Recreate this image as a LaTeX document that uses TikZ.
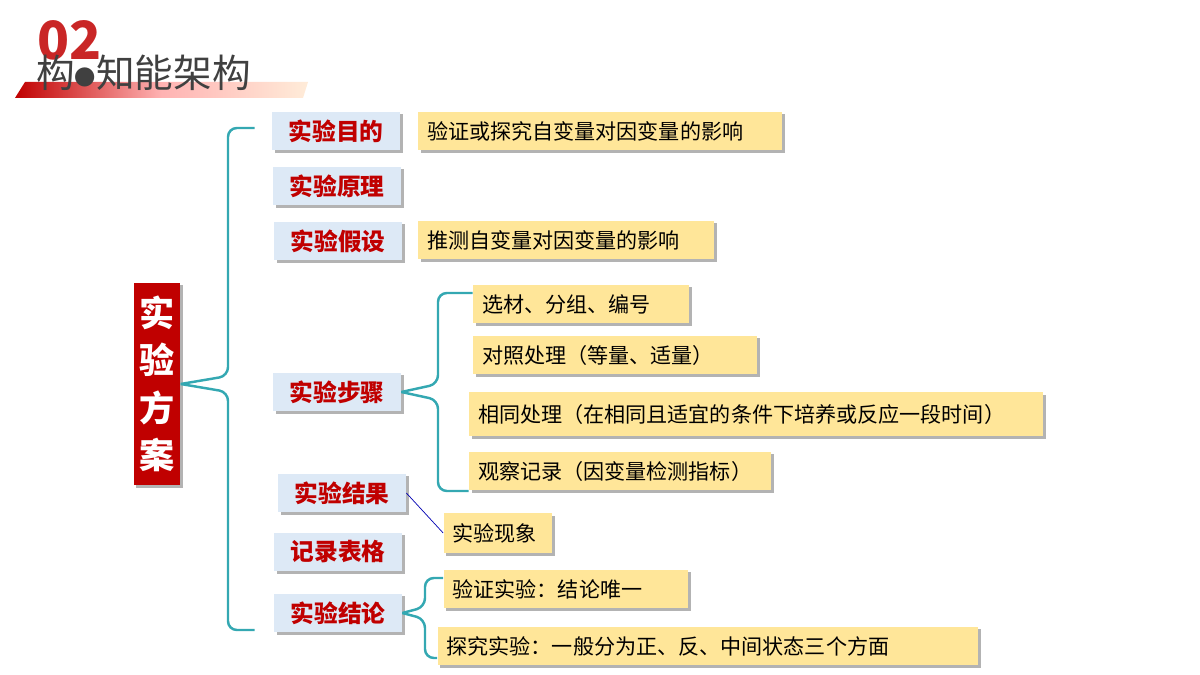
\documentclass[tikz,border=0pt]{standalone}
\usepackage{fontspec}
\setmainfont{Noto Sans CJK SC}
\usetikzlibrary{positioning, shadows, calc}
\definecolor{darkred}{RGB}{192,0,0}
\definecolor{boxblue}{RGB}{221,233,246}
\definecolor{boxyellow}{RGB}{255,230,153}
\definecolor{braceteal}{RGB}{52,168,178}
\tikzset{
  topic/.style={fill=boxblue, drop shadow={shadow xshift=1.5pt, shadow yshift=-1.5pt, opacity=0.6},
    minimum height=0.78cm, minimum width=2.56cm, inner sep=0pt, text=darkred, font=\bfseries\fontsize{13.5}{15}\selectfont},
  detail/.style={fill=boxyellow, drop shadow={shadow xshift=1.5pt, shadow yshift=-1.5pt, opacity=0.6},
    minimum height=0.78cm, inner xsep=0.18cm, inner ysep=0pt, align=left, font=\fontsize{12}{14}\selectfont}, 
  brace/.style={draw=braceteal, line width=1.4pt, rounded corners=5pt}
}
\begin{document}
\begin{tikzpicture}[x=0.02cm, y=-0.02cm]
    \useasboundingbox (0,0) rectangle (1200,675);
    % Header
    \shade[left color=darkred, right color=orange!15, middle color=red!30] (15,98) -- (25,82) -- (308,82) -- (303,98) -- cycle;
    \node[text=darkred, font=\bfseries\fontsize{30}{30}\selectfont, opacity=0.85] (num) at (70,40) {02};
    \node[text=black!75, font=\fontsize{22}{24}\selectfont, anchor=west] (head) at (30,73) {构\raisebox{0.05em}{\scalebox{0.55}{●}}知能架构};

    % Main title
    \node[fill=darkred, drop shadow={shadow xshift=1.5pt, shadow yshift=-1.5pt, opacity=0.6}, minimum width=0.84cm, minimum height=4.06cm,
          text=white, font=\bfseries\fontsize{20}{27}\selectfont, align=center] (plan) at (157,384) {实\\验\\方\\案};

    % Topics
    \node[topic] (aim) at (336,131) {实验目的};
    \node[topic] (principle) at (337,186) {实验原理};
    \node[topic] (hypo) at (338,241) {实验假设};
    \node[topic] (steps) at (337,392) {实验步骤};
    \node[topic] (result) at (342,493) {实验结果};
    \node[topic] (table) at (338,552) {记录表格};
    \node[topic] (concl) at (338,613) {实验结论};

    % Details
    \node[detail, text width=6.92cm] (aimtxt) at (600,131) {验证或探究自变量对因变量的影响};
    \node[detail, text width=5.56cm] (hypotxt) at (566,240) {推测自变量对因变量的影响};
    \node[detail, text width=3.96cm] (s1) at (581,304) {选材、分组、编号};
    \node[detail, text width=5.32cm] (s2) at (615,355) {对照处理（等量、适量）};
    \node[detail, text width=11.12cm, minimum height=0.88cm] (s3) at (756,414) {相同处理（在相同且适宜的条件下培养或反应一段时间）};
    \node[detail, text width=5.68cm] (s4) at (620,471) {观察记录（因变量检测指标）};
    \node[detail, text width=1.82cm, minimum height=0.8cm] (phen) at (498,533) {实验现象};
    \node[detail, text width=4.54cm] (c1) at (566,589) {验证实验：结论唯一};
    \node[detail, text width=10.46cm] (c2) at (708,646) {探究实验：一般分为正、反、中间状态三个方面};

    % Braces
    \coordinate (btop) at ($(aim.west)+(-17,-3)$);
    \coordinate (bbot) at ($(concl.west)+(-19,17)$);
    \draw[brace] (btop) -- (228,128) -- (228,376) -- (plan.east);
    \draw[brace] (plan.east) -- (228,392) -- (228,630) -- (bbot);
    \draw[brace] ([yshift=0.22cm]s1.west) -- (438,293) -- (438,384) -- (steps.east);
    \draw[brace] (steps.east) -- (438,400) -- (438,491) -- ([yshift=-0.4cm]s4.west);
    \draw[brace] ([yshift=0.22cm]c1.west) -- (425,578) -- (425,607) -- (concl.east);
    \draw[brace] (concl.east) -- (425,619) -- (425,658) -- ([yshift=-0.24cm]c2.west);
    \draw[blue!70!black, thin] (result.east) -- (phen.west);
\end{tikzpicture}
\end{document}
